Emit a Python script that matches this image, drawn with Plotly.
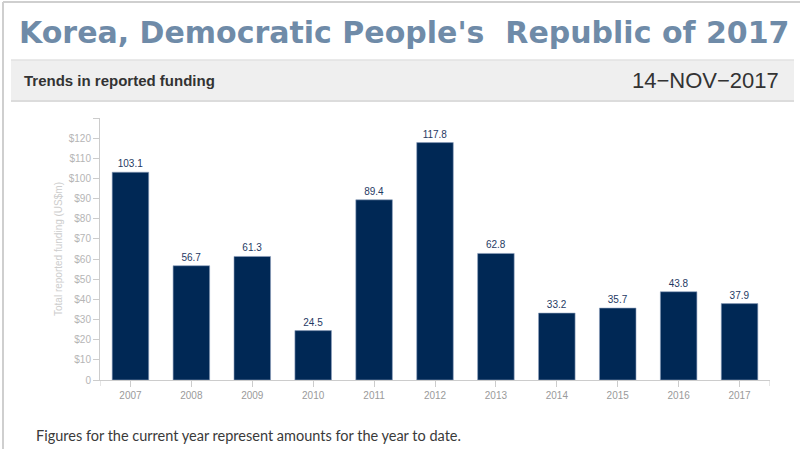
import plotly.graph_objects as go

years = ["2007", "2008", "2009", "2010", "2011", "2012", "2013", "2014", "2015", "2016", "2017"]
funding = [103.1, 56.7, 61.3, 24.5, 89.4, 117.8, 62.8, 33.2, 35.7, 43.8, 37.9]
ytick_vals = [0, 10, 20, 30, 40, 50, 60, 70, 80, 90, 100, 110, 120, 130]
ytick_text = ["0", "$10", "$20", "$30", "$40", "$50", "$60", "$70", "$80", "$90", "$100", "$110", "$120", ""]

W, H = 800, 449
L, R, T, B = 100, 30, 118, 69
PW, PH = W - L - R, H - T - B


def px(x):
    return (x - L) / PW


def py(y):
    return (H - B - y) / PH


fig = go.Figure()
fig.add_trace(go.Bar(
    x=list(range(len(years))), y=funding, width=0.6,
    marker=dict(color="#002855", line=dict(color="#8da0bd", width=0.6)),
    text=[f"{v:.1f}" for v in funding], textposition="outside",
    textfont=dict(size=10, color="#1f3a64", family="Liberation Sans, Arial"),
    cliponaxis=False, hoverinfo="skip",
))

shapes = [
    # outer frame
    dict(type="line", xref="paper", yref="paper", x0=px(3), x1=px(800), y0=py(2), y1=py(2),
         line=dict(color="#cfcfcf", width=2)),
    dict(type="line", xref="paper", yref="paper", x0=px(3), x1=px(3), y0=py(2), y1=py(449),
         line=dict(color="#cfcfcf", width=2)),
    # grey band
    dict(type="rect", xref="paper", yref="paper", x0=px(11), x1=px(794), y0=py(60), y1=py(101),
         fillcolor="#efefef", line=dict(width=0), layer="below"),
    dict(type="line", xref="paper", yref="paper", x0=px(11), x1=px(794), y0=py(60), y1=py(60),
         line=dict(color="#e2e2e2", width=1.5)),
    dict(type="line", xref="paper", yref="paper", x0=px(11), x1=px(794), y0=py(101), y1=py(101),
         line=dict(color="#dcdcdc", width=2)),
    # x-axis end ticks
    dict(type="line", xref="x", yref="paper", x0=-0.5, x1=-0.5, y0=0, y1=py(386),
         line=dict(color="#cccccc", width=1)),
    dict(type="line", xref="x", yref="paper", x0=10.5, x1=10.5, y0=0, y1=py(386),
         line=dict(color="#cccccc", width=1)),
]

annotations = [
    dict(xref="paper", yref="paper", x=px(17), y=py(32), xanchor="left", yanchor="middle",
         text="<b>Korea, Democratic People's&nbsp; Republic of 2017</b>", showarrow=False,
         font=dict(family="DejaVu Sans", size=30, color="#6f8ba8")),
    dict(xref="paper", yref="paper", x=px(22), y=py(80), xanchor="left", yanchor="middle",
         text="<b>Trends in reported funding</b>", showarrow=False,
         font=dict(family="Liberation Sans Narrow, Liberation Sans", size=15, color="#333333")),
    dict(xref="paper", yref="paper", x=px(781), y=py(80), xanchor="right", yanchor="middle",
         text="14\u2212NOV\u22122017", showarrow=False,
         font=dict(family="Liberation Sans, Arial", size=22, color="#333333")),
    dict(xref="paper", yref="paper", x=px(34), y=py(435), xanchor="left", yanchor="middle",
         text="Figures for the current year represent amounts for the year to date.", showarrow=False,
         font=dict(family="Lato, Open Sans", size=14.5, color="#3a3a3a")),
]

fig.update_layout(
    width=W, height=H, margin=dict(l=L, r=R, t=T, b=B),
    paper_bgcolor="white", plot_bgcolor="white",
    showlegend=False, shapes=shapes, annotations=annotations,
    font=dict(family="Liberation Sans, Arial"),
    xaxis=dict(range=[-0.5, 10.5], tickmode="array", tickvals=list(range(len(years))), ticktext=years,
               showline=True, linecolor="#cccccc", linewidth=1, ticks="outside", ticklen=6,
               tickcolor="#cccccc", tickfont=dict(size=10, color="#9a9a9a"), showgrid=False,
               zeroline=False, fixedrange=True),
    yaxis=dict(range=[0, 130], tickmode="array", tickvals=ytick_vals, ticktext=ytick_text,
               showline=True, linecolor="#cccccc", linewidth=1, ticks="outside", ticklen=6,
               tickcolor="#cccccc", tickfont=dict(size=10, color="#b5b5b5"), showgrid=False,
               zeroline=False, fixedrange=True,
               title=dict(text="Total reported funding (US$m)", font=dict(size=10, color="#cdcdcd"),
                          standoff=4)),
)

fig.write_html("out.html", config={"displayModeBar": False},
               post_script="document.body.style.margin='0';document.body.style.overflow='hidden';")
